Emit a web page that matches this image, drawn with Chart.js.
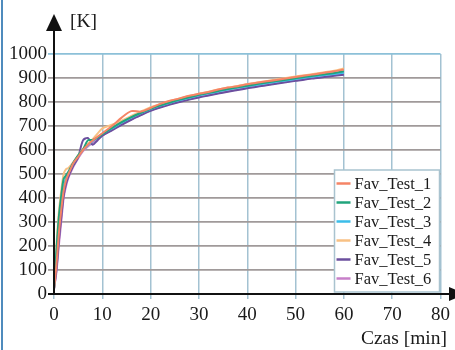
<!DOCTYPE html>
<html>
<head>
<meta charset="utf-8">
<script src="https://cdn.jsdelivr.net/npm/chart.js@4/dist/chart.umd.min.js"></script>
<style>
  html, body { margin: 0; padding: 0; background: #fff; }
  #wrap { width: 455px; height: 350px; position: relative; font-family: "Liberation Serif", serif; }
</style>
</head>
<body>
<div id="wrap"><canvas id="myChart" width="455" height="350"></canvas></div>
<script>
// time in minutes
var time = [0, 0.5, 1, 1.5, 2, 2.5, 3, 4, 5, 6, 7, 8, 9, 10,
  12, 14, 16, 18, 20, 22, 24, 26, 28, 30, 32, 34, 36, 38, 40,
  42, 44, 46, 48, 50, 52, 54, 56, 58, 60];

var test1 = [20, 120, 250, 350, 430, 475, 500, 545, 572, 600, 622, 640, 655, 670,
  700, 735, 762, 760, 775, 792, 805, 815, 826, 834, 842, 852, 860, 866, 874,
  880, 886, 892, 898, 904, 910, 916, 922, 928, 935];
var test2 = [20, 180, 320, 410, 480, 495, 510, 548, 578, 602, 640, 642, 652, 666,
  692, 716, 737, 755, 772, 786, 798, 810, 820, 830, 838, 846, 854, 861, 868,
  875, 881, 887, 893, 899, 905, 910, 916, 921, 928];
var test3 = [20, 160, 290, 380, 445, 485, 505, 545, 575, 600, 620, 638, 652, 667,
  690, 714, 735, 754, 771, 785, 797, 808, 818, 828, 836, 844, 852, 859, 866,
  872, 878, 884, 890, 896, 902, 907, 912, 917, 922];
var test4 = [20, 200, 340, 430, 500, 520, 525, 550, 578, 605, 625, 645, 668, 690,
  705, 722, 742, 760, 778, 792, 804, 815, 825, 834, 843, 852, 860, 867, 874,
  881, 887, 894, 900, 906, 912, 918, 924, 930, 940];
var test5 = [20, 100, 220, 320, 410, 460, 490, 535, 570, 640, 650, 622, 640, 660,
  682, 705, 726, 745, 763, 777, 789, 800, 810, 819, 827, 835, 843, 850, 857,
  864, 870, 876, 882, 888, 894, 899, 904, 909, 914];
var test6 = [20, 90, 200, 300, 400, 450, 485, 530, 565, 595, 615, 630, 645, 660,
  684, 708, 728, 747, 765, 779, 791, 802, 812, 821, 829, 837, 845, 852, 859,
  866, 872, 878, 884, 890, 896, 901, 906, 911, 916];

var labels = ["Fav_Test_1", "Fav_Test_2", "Fav_Test_3", "Fav_Test_4", "Fav_Test_5", "Fav_Test_6"];
var colors = ["#f58466", "#21a47c", "#3bbde9", "#f8c184", "#6b4f9e", "#c77fc9"];
var series = [test1, test2, test3, test4, test5, test6];

var serif = '"Liberation Serif", "Times New Roman", serif';

function points(values) {
  return values.map(function(v, i) { return { x: time[i], y: v }; });
}

// axes with arrows, axis titles, legend box and the frame line
var decor = {
  id: "decor",
  afterDraw: function(chart) {
    var ctx = chart.ctx;
    var a = chart.chartArea;
    var x0 = chart.scales.x.getPixelForValue(0);
    var y0 = chart.scales.y.getPixelForValue(0);
    ctx.save();

    // left frame line
    ctx.strokeStyle = "#4f8bbd";
    ctx.lineWidth = 2;
    ctx.beginPath();
    ctx.moveTo(2, 0);
    ctx.lineTo(2, 350);
    ctx.stroke();

    // legend
    var lx = a.right - 106, ly = 170, lw = 105, lh = 122;
    ctx.fillStyle = "#fff";
    ctx.fillRect(lx, ly, lw, lh);
    ctx.strokeStyle = "#a9c3cf";
    ctx.lineWidth = 1.5;
    ctx.strokeRect(lx, ly, lw, lh);
    ctx.font = "16.5px " + serif;
    ctx.textBaseline = "middle";
    ctx.textAlign = "left";
    labels.forEach(function(l, i) {
      var yy = ly + 13.5 + i * 19;
      ctx.strokeStyle = colors[i];
      ctx.lineWidth = 2.5;
      ctx.beginPath();
      ctx.moveTo(lx + 2, yy);
      ctx.lineTo(lx + 16, yy);
      ctx.stroke();
      ctx.fillStyle = "#1a1a1a";
      ctx.fillText(l, lx + 20, yy + 1);
    });

    // axes
    ctx.strokeStyle = "#111";
    ctx.fillStyle = "#111";
    ctx.lineWidth = 2;
    ctx.beginPath();
    ctx.moveTo(x0, y0);
    ctx.lineTo(x0, 28);
    ctx.moveTo(x0 - 6, y0);
    ctx.lineTo(450, y0);
    ctx.stroke();
    ctx.beginPath();
    ctx.moveTo(x0, 14);
    ctx.lineTo(x0 - 8, 31);
    ctx.lineTo(x0 + 8, 31);
    ctx.closePath();
    ctx.fill();
    ctx.beginPath();
    ctx.moveTo(466, y0);
    ctx.lineTo(449, y0 - 7);
    ctx.lineTo(449, y0 + 7);
    ctx.closePath();
    ctx.fill();

    // axis titles
    ctx.font = "19.5px " + serif;
    ctx.fillStyle = "#1a1a1a";
    ctx.textAlign = "left";
    ctx.fillText("[K]", 70, 22);
    ctx.textAlign = "right";
    ctx.fillText("Czas [min]", 447, 339);
    ctx.restore();
  }
};

function draw() {
  var ctx = document.getElementById("myChart");
  new Chart(ctx, {
    type: "line",
    data: {
      datasets: series.map(function(s, i) {
        return {
          label: labels[i],
          data: points(s),
          borderColor: colors[i],
          backgroundColor: colors[i],
          borderWidth: 2,
          pointRadius: 0,
          fill: false,
          tension: 0.3
        };
      })
    },
    options: {
      responsive: false,
      animation: false,
      layout: { padding: { top: 54, right: 14, left: 0, bottom: 0 } },
      plugins: {
        legend: { display: false },
        tooltip: { enabled: false }
      },
      scales: {
        x: {
          type: "linear",
          min: 0,
          max: 80,
          afterFit: function(s) { s.height = 56; },
          ticks: {
            stepSize: 10,
            autoSkip: false,
            color: "#1a1a1a",
            font: { family: serif, size: 19 },
            padding: 5,
            maxRotation: 0,
            callback: function(v) { return String(v); }
          },
          grid: {
            color: "#a3c2d2",
            lineWidth: 1.5,
            tickLength: 5
          },
          border: { display: false }
        },
        y: {
          min: 0,
          max: 1000,
          afterFit: function(s) { s.width = 54; },
          ticks: {
            stepSize: 100,
            autoSkip: false,
            color: "#1a1a1a",
            font: { family: serif, size: 19 },
            padding: 1,
            callback: function(v) { return String(v); }
          },
          grid: {
            color: function(c) { return c.tick && c.tick.value === 1000 ? "#8cc0d8" : "#a09a9a"; },
            lineWidth: 1.8,
            tickLength: 6
          },
          border: { display: false }
        }
      }
    },
    plugins: [decor]
  });
}

document.addEventListener("DOMContentLoaded", function() {
  if (document.fonts && document.fonts.load) {
    document.fonts.load('18px "Liberation Serif"').then(draw, draw);
  } else {
    draw();
  }
});
</script>
</body>
</html>
